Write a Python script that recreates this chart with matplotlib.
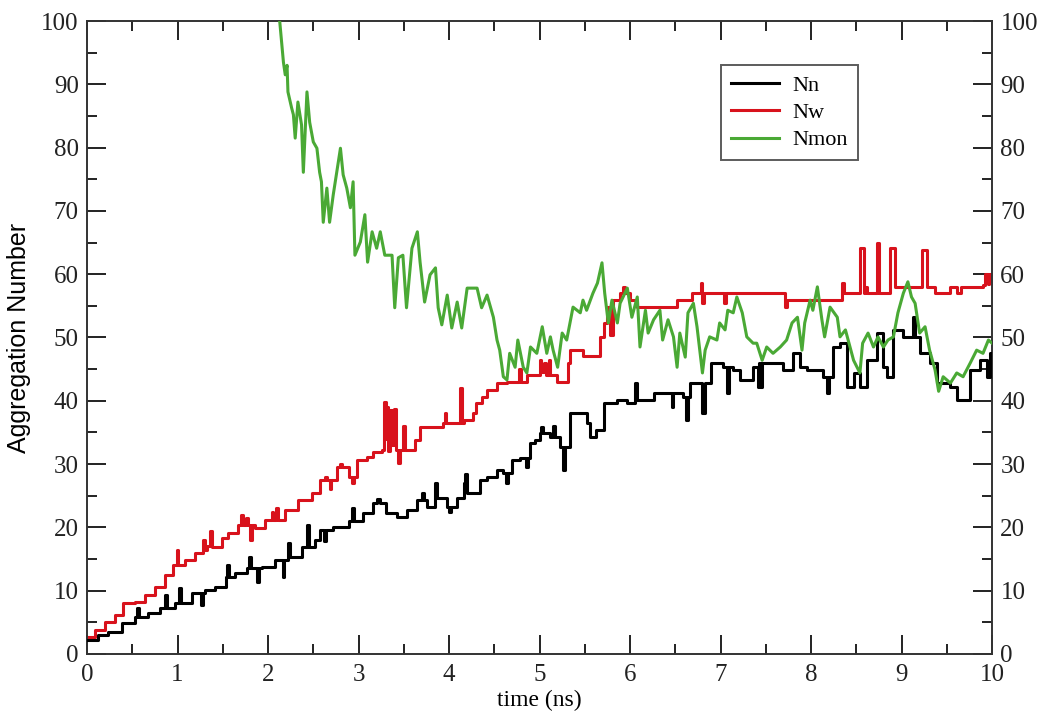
import matplotlib
matplotlib.use("Agg")
import matplotlib.pyplot as plt
from matplotlib.ticker import MultipleLocator

# ---------------- data ----------------
nn_t = [0.00, 0.12, 0.23, 0.39, 0.53, 0.55, 0.57, 0.67, 0.81, 0.86, 0.88, 0.97, 1.02, 1.04,
        1.16, 1.26, 1.28, 1.30, 1.41, 1.53, 1.55, 1.57, 1.64, 1.77, 1.79, 1.81, 1.88, 1.90,
        1.93, 2.08, 2.16, 2.18, 2.22, 2.24, 2.38, 2.43, 2.45, 2.52, 2.57, 2.62, 2.64, 2.72,
        2.90, 2.93, 2.95, 3.05, 3.16, 3.20, 3.24, 3.30, 3.42, 3.53, 3.65, 3.70, 3.72, 3.76,
        3.85, 3.87, 3.98, 4.00, 4.02, 4.09, 4.16, 4.18, 4.20, 4.34, 4.42, 4.53, 4.60, 4.63,
        4.65, 4.70, 4.78, 4.85, 4.87, 4.90, 4.95, 5.00, 5.02, 5.04, 5.12, 5.15, 5.17, 5.23,
        5.26, 5.28, 5.34, 5.45, 5.52, 5.56, 5.62, 5.71, 5.86, 5.97, 6.06, 6.08, 6.26, 6.40,
        6.46, 6.48, 6.59, 6.62, 6.64, 6.66, 6.80, 6.83, 6.90, 7.03, 7.07, 7.09, 7.14, 7.22,
        7.36, 7.41, 7.42, 7.44, 7.46, 7.55, 7.69, 7.80, 7.88, 7.96, 8.13, 8.18, 8.20, 8.24,
        8.32, 8.40, 8.47, 8.54, 8.62, 8.73, 8.80, 8.84, 8.91, 9.02, 9.13, 9.15, 9.20, 9.31,
        9.39, 9.54, 9.61, 9.76, 9.87, 9.94, 9.98, 10.00]
nn_v = [2.2, 3.0, 3.5, 4.9, 5.8, 7.3, 5.8, 6.5, 7.3, 9.3, 7.3, 8.0, 10.4, 8.0,
        9.6, 7.7, 9.6, 10.1, 10.6, 12.2, 14.0, 12.2, 12.8, 13.6, 15.3, 13.6, 11.4, 13.6,
        13.8, 14.8, 12.2, 14.8, 17.5, 15.3, 16.9, 20.4, 16.9, 18.0, 19.6, 17.8, 19.6, 20.0,
        21.0, 23.0, 21.0, 22.3, 23.8, 24.5, 23.8, 22.3, 21.7, 22.7, 24.3, 25.5, 24.3, 23.2,
        27.0, 24.6, 23.2, 22.5, 23.2, 24.6, 27.0, 28.5, 25.4, 27.5, 28.0, 29.0, 28.6, 27.0,
        28.6, 30.6, 31.0, 29.5, 31.0, 33.3, 33.8, 34.9, 35.9, 34.9, 34.3, 36.0, 34.3, 32.7,
        29.0, 32.7, 38.0, 38.0, 36.5, 34.3, 35.4, 39.6, 40.1, 39.6, 42.8, 40.1, 41.2, 41.2,
        39.0, 41.2, 40.6, 37.0, 40.6, 42.8, 38.0, 42.8, 46.0, 45.3, 41.2, 45.3, 44.9, 43.3,
        45.3, 42.2, 46.0, 42.2, 46.0, 46.0, 44.9, 47.5, 45.3, 44.9, 43.8, 41.2, 43.8, 48.5,
        49.1, 42.2, 44.4, 42.2, 46.4, 50.7, 45.3, 43.8, 51.2, 50.1, 53.2, 50.1, 47.5, 46.0,
        42.8, 42.2, 40.1, 44.9, 46.4, 43.8, 47.5, 46.0]

nw_t = [0.00, 0.09, 0.20, 0.31, 0.40, 0.53, 0.64, 0.75, 0.86, 0.95, 0.99, 1.01, 1.08, 1.19,
        1.28, 1.30, 1.32, 1.36, 1.38, 1.49, 1.56, 1.67, 1.70, 1.72, 1.76, 1.78, 1.80, 1.82,
        1.86, 1.97, 2.04, 2.06, 2.09, 2.11, 2.19, 2.33, 2.49, 2.57, 2.63, 2.65, 2.68, 2.70,
        2.76, 2.80, 2.82, 2.90, 2.93, 2.95, 2.98, 3.09, 3.16, 3.26, 3.28, 3.30, 3.31, 3.33,
        3.35, 3.37, 3.39, 3.41, 3.44, 3.46, 3.49, 3.51, 3.57, 3.62, 3.68, 3.82, 3.93, 3.95,
        3.97, 4.09, 4.12, 4.14, 4.16, 4.27, 4.30, 4.36, 4.42, 4.53, 4.64, 4.75, 4.77, 4.79,
        4.86, 4.97, 5.00, 5.02, 5.05, 5.07, 5.10, 5.12, 5.19, 5.31, 5.34, 5.45, 5.48, 5.63,
        5.67, 5.71, 5.74, 5.78, 5.81, 5.89, 5.92, 5.94, 6.00, 6.08, 6.48, 6.52, 6.68, 6.78,
        6.80, 6.82, 7.02, 7.04, 7.06, 7.69, 7.71, 7.73, 8.32, 8.34, 8.36, 8.52, 8.54, 8.58,
        8.60, 8.62, 8.72, 8.73, 8.75, 8.87, 8.93, 9.22, 9.23, 9.28, 9.37, 9.54, 9.61, 9.66,
        9.90, 9.92, 9.95, 9.97, 10.00]
nw_v = [2.7, 3.8, 5.0, 6.2, 8.0, 8.2, 9.3, 10.6, 12.5, 14.0, 16.4, 14.0, 14.8, 15.9,
        18.0, 16.5, 17.0, 19.5, 16.9, 18.3, 19.1, 20.4, 22.0, 20.4, 21.5, 20.4, 18.0, 20.4,
        19.9, 21.2, 22.5, 21.2, 23.0, 21.2, 22.7, 24.3, 25.4, 27.5, 28.0, 27.5, 26.0, 27.5,
        29.5, 30.0, 29.5, 28.0, 27.0, 28.0, 30.6, 31.1, 31.9, 32.2, 39.8, 34.0, 39.0, 32.0,
        38.5, 33.0, 38.7, 32.2, 30.2, 32.2, 36.0, 32.2, 32.2, 33.8, 35.9, 35.9, 36.5, 38.0,
        36.5, 36.5, 42.0, 36.5, 37.0, 38.0, 39.6, 40.6, 41.7, 42.8, 43.0, 43.0, 45.0, 43.0,
        44.0, 44.0, 46.5, 44.5, 46.0, 44.0, 46.4, 44.0, 43.0, 46.0, 48.0, 48.0, 47.0, 47.0,
        50.0, 52.3, 54.8, 50.4, 55.9, 57.0, 58.0, 57.0, 55.9, 54.8, 54.8, 55.9, 57.0, 58.6,
        55.5, 57.0, 57.0, 55.5, 57.0, 57.0, 54.8, 55.9, 55.9, 58.6, 57.0, 57.0, 64.1, 57.0,
        58.0, 57.0, 57.0, 64.9, 57.0, 64.1, 58.0, 58.0, 63.8, 58.0, 57.0, 58.0, 57.0, 58.0,
        58.3, 60.0, 58.5, 60.0, 59.0]

nmon_t = [2.10, 2.13, 2.17, 2.19, 2.21, 2.22, 2.26, 2.28, 2.30, 2.33, 2.37, 2.39, 2.43, 2.46,
          2.50, 2.54, 2.57, 2.59, 2.61, 2.65, 2.68, 2.72, 2.80, 2.83, 2.87, 2.91, 2.94, 2.96,
          3.02, 3.07, 3.10, 3.15, 3.20, 3.24, 3.29, 3.37, 3.40, 3.44, 3.49, 3.53, 3.59, 3.65,
          3.68, 3.73, 3.79, 3.85, 3.88, 3.92, 3.98, 4.03, 4.09, 4.14, 4.20, 4.31, 4.36, 4.42,
          4.49, 4.53, 4.56, 4.60, 4.64, 4.67, 4.73, 4.76, 4.82, 4.86, 4.90, 4.97, 5.03, 5.08,
          5.12, 5.15, 5.20, 5.25, 5.30, 5.37, 5.45, 5.48, 5.52, 5.59, 5.64, 5.69, 5.72, 5.76,
          5.80, 5.86, 5.89, 5.97, 6.02, 6.08, 6.11, 6.17, 6.20, 6.26, 6.33, 6.36, 6.42, 6.48,
          6.52, 6.55, 6.61, 6.64, 6.70, 6.74, 6.80, 6.83, 6.88, 6.96, 6.99, 7.05, 7.08, 7.14,
          7.18, 7.24, 7.29, 7.36, 7.40, 7.46, 7.51, 7.58, 7.66, 7.73, 7.79, 7.85, 7.90, 7.93,
          7.99, 8.02, 8.07, 8.12, 8.15, 8.21, 8.29, 8.32, 8.38, 8.43, 8.47, 8.54, 8.57, 8.63,
          8.69, 8.74, 8.80, 8.85, 8.91, 8.96, 9.02, 9.07, 9.11, 9.15, 9.20, 9.26, 9.31, 9.37,
          9.41, 9.46, 9.54, 9.61, 9.68, 9.76, 9.83, 9.90, 9.96, 10.00]
nmon_v = [102.0, 99.8, 93.5, 91.5, 93.0, 88.8, 86.3, 85.2, 81.5, 87.2, 83.6, 76.1, 88.8, 84.0,
          80.9, 79.9, 76.1, 74.6, 68.2, 73.6, 68.2, 72.5, 79.9, 75.7, 73.6, 70.5, 74.6, 63.0,
          65.1, 69.4, 61.9, 66.7, 64.1, 66.7, 63.0, 63.0, 54.7, 62.6, 63.0, 54.7, 64.1, 66.7,
          61.9, 55.6, 59.9, 61.0, 54.7, 52.0, 56.7, 51.5, 55.6, 51.5, 57.8, 57.8, 54.7, 56.7,
          53.2, 49.6, 48.0, 43.8, 43.3, 47.5, 45.3, 49.6, 45.3, 44.4, 48.5, 47.5, 51.7, 47.5,
          50.1, 48.0, 45.3, 50.7, 49.6, 54.8, 53.9, 55.9, 54.3, 57.0, 58.6, 61.8, 57.0, 52.3,
          55.9, 52.3, 55.4, 57.8, 53.2, 56.4, 48.5, 54.3, 50.7, 52.8, 54.3, 49.6, 52.8, 50.1,
          45.3, 50.7, 46.9, 53.9, 55.4, 51.7, 44.4, 48.0, 50.1, 49.6, 52.3, 51.2, 54.3, 53.9,
          56.4, 53.9, 50.1, 49.1, 49.1, 46.4, 48.5, 47.5, 48.5, 49.6, 52.3, 53.2, 48.0, 52.3,
          55.9, 54.3, 58.0, 52.8, 50.1, 54.8, 53.2, 50.1, 51.2, 48.5, 46.4, 44.4, 49.1, 50.7,
          48.5, 50.1, 48.5, 49.6, 50.1, 53.9, 57.0, 58.8, 56.4, 55.4, 50.7, 51.7, 48.0, 44.9,
          41.5, 43.8, 42.8, 44.4, 43.8, 46.0, 48.0, 47.5, 49.6, 49.1]

series_labels = ["Nn", "Nw", "Nmon"]
x_ticks = [0, 1, 2, 3, 4, 5, 6, 7, 8, 9, 10]
y_ticks = [0, 10, 20, 30, 40, 50, 60, 70, 80, 90, 100]

# ---------------- figure ----------------
serif = ["Liberation Serif", "DejaVu Serif"]
fig = plt.figure(figsize=(10.5, 7.22), dpi=100)
ax = fig.add_axes([0.0829, 0.0942, 0.8619, 0.8767])

lw = 2.2
ax.plot(nn_t, nn_v, color="black", lw=lw, drawstyle="steps-post", label=series_labels[0], zorder=3)
ax.plot(nw_t, nw_v, color="#d8121c", lw=lw, drawstyle="steps-post", label=series_labels[1], zorder=2)
ax.plot(nmon_t, nmon_v, color="#4aa935", lw=lw, label=series_labels[2], zorder=4)

ax.set_xlim(0, 10)
ax.set_ylim(0, 100)
ax.set_xticks(x_ticks)
ax.set_yticks(y_ticks)
ax.xaxis.set_minor_locator(MultipleLocator(0.5))
ax.yaxis.set_minor_locator(MultipleLocator(5))
ax.tick_params(which="both", direction="in", top=True, right=True, labelright=True,
               width=1.4, colors="#222222", labelcolor="#222222")
ax.tick_params(which="major", length=14, labelsize=18)
ax.tick_params(axis="y", which="major", pad=6)
ax.tick_params(axis="x", which="major", pad=7)
ax.tick_params(which="minor", length=7)
for side in ax.spines.values():
    side.set_linewidth(1.4)
    side.set_color("#333333")

ax.set_xlabel("time (ns)", fontsize=17, family=serif, labelpad=3)
ax.set_ylabel("Aggregation Number", fontsize=18, family=["Liberation Sans Narrow", "Liberation Sans"],
              labelpad=7)

leg = ax.legend(loc="upper left", bbox_to_anchor=(0.70, 0.93), frameon=True, fancybox=False,
                prop={"family": serif, "size": 16}, handlelength=2.2, handletextpad=0.6,
                borderpad=0.45, labelspacing=0.3, borderaxespad=0)
leg.get_frame().set_edgecolor("#333333")
leg.get_frame().set_linewidth(1.4)

for t in ax.yaxis.majorTicks:
    t.label1.set_family(serif)
    t.label2.set_family(serif)
for t in ax.xaxis.majorTicks:
    t.label1.set_family(serif)

fig.savefig("out.png", dpi=100)
